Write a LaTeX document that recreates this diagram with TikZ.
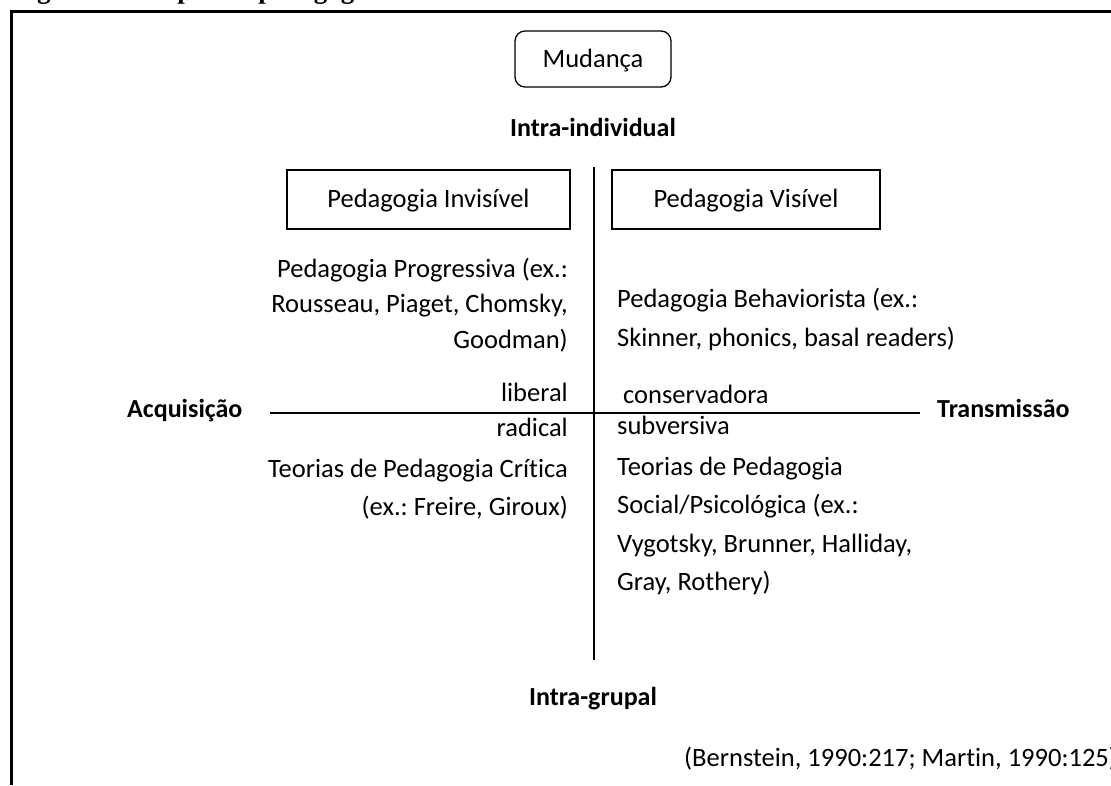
\documentclass[tikz,border=0pt]{standalone}
\usepackage{fontspec}
\setmainfont[Ligatures=NoCommon]{Carlito}
\newfontfamily\captionfont{Liberation Serif}
\frenchspacing
\begin{document}
\begin{tikzpicture}[x=1pt,y=-1pt,
  txt/.style={inner sep=0pt,font=\fontsize{26.5}{36}\selectfont},
  lbl/.style={inner sep=0pt,font=\fontsize{26}{36}\selectfont\bfseries},
  pbox/.style={draw,line width=1.3pt,inner sep=0pt},
  axis/.style={line width=1.3pt}]
\useasboundingbox (0,0) rectangle (1111,785);

% figure caption, cut by the top of the page
\begin{scope}
  \clip (0,0) rectangle (1111,10);
  \node[inner sep=0pt,anchor=base west,font=\fontsize{27}{30}\selectfont\captionfont\bfseries]
    (caption) at (13,-2) {Figura 1 – Mapa das pedagogias};
\end{scope}

% frame
\draw[line width=2.7pt] (11.3,785) -- (11.3,11.3) -- (1111,11.3);

% boxes
\draw[pbox,rounded corners=10pt] (515,31) rectangle (671,87);
\node[txt,anchor=base] (mud) at (593,67) {Mudança};
\draw[pbox] (287,170) rectangle (570,229);
\node[txt,anchor=base] (inv) at (428.5,207) {Pedagogia Invisível};
\draw[pbox] (612,170) rectangle (880,229);
\node[txt,anchor=base] (vis) at (746,207) {Pedagogia Visível};

% poles
\node[lbl,anchor=base] (top) at (593,136) {Intra-individual};
\node[lbl,anchor=base] (bot) at (593,705) {Intra-grupal};
\node[lbl,anchor=base west] (acq) at (127,417) {Acquisição};
\node[lbl,anchor=base west] (tra) at (937,417) {Transmissão};

% axes
\coordinate (vt) at (594,167);
\coordinate (vb) at (594,660);
\coordinate (hl) at (270,413);
\coordinate (hr) at (920,413);
\draw[axis] (vt) -- (vb);
\draw[axis] (hl) -- (hr);

% upper left quadrant
\node[txt,anchor=base east] (ul1) at (568,277) {Pedagogia Progressiva (ex.:};
\node[txt,anchor=base east] (ul2) at (568,312) {Rousseau, Piaget, Chomsky,};
\node[txt,anchor=base east] (ul3) at (568,348) {Goodman)};
\node[txt,anchor=base east] (lib) at (568,401) {liberal};

% upper right quadrant
\node[txt,anchor=base west] (ur1) at (617,307) {Pedagogia Behaviorista (ex.:};
\node[txt,anchor=base west] (ur2) at (617,346) {Skinner, phonics, basal readers)};
\node[txt,anchor=base west] (con) at (623,403) {conservadora};

% lower left quadrant
\node[txt,anchor=base east] (rad) at (568,436) {radical};
\node[txt,anchor=base east] (ll1) at (568,477) {Teorias de Pedagogia Crítica};
\node[txt,anchor=base east] (ll2) at (568,515) {(ex.: Freire, Giroux)};

% lower right quadrant
\node[txt,anchor=base west] (sub) at (617,434) {subversiva};
\node[txt,anchor=base west] (lr1) at (617,475) {Teorias de Pedagogia};
\node[txt,anchor=base west] (lr2) at (617,513) {Social/Psicológica (ex.:};
\node[txt,anchor=base west] (lr3) at (617,552) {Vygotsky, Brunner, Halliday,};
\node[txt,anchor=base west] (lr4) at (617,590) {Gray, Rothery)};

% source
\node[txt,anchor=base west] (src) at (684,766) {(Bernstein, 1990:217; Martin, 1990:125)};
\end{tikzpicture}
\end{document}
